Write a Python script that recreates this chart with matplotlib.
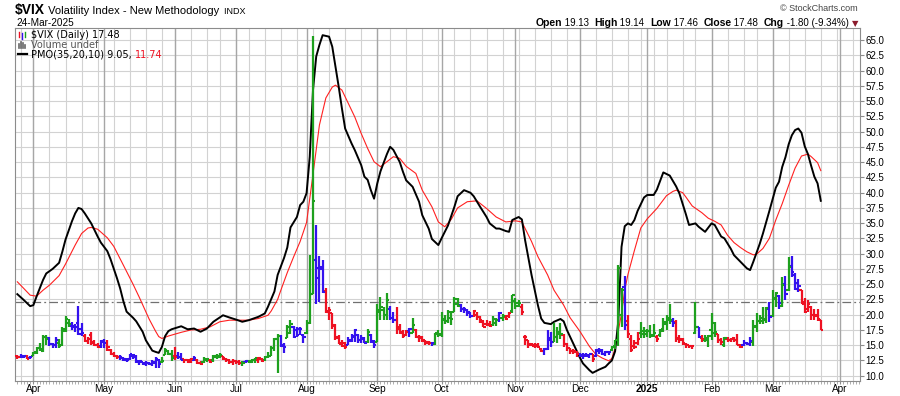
#!/usr/bin/env python3
# -*- coding: utf-8 -*-
"""
$VIX daily OHLC with PMO(35,20,10) overlay, StockCharts style
"""

import numpy as np
import pandas as pd
import matplotlib
matplotlib.use('Agg')
import matplotlib.pyplot as plt
import matplotlib.transforms as mtransforms
from matplotlib.lines import Line2D

W, H = 900, 396
plt.rcParams['font.family'] = ['Liberation Sans', 'DejaVu Sans']

# ---------------- data ----------------
# exchange holidays in the window (trading-day axis)
holidays = ['2024-03-29', '2024-05-27', '2024-06-19', '2024-07-04', '2024-09-02',
            '2024-11-28', '2024-12-25', '2025-01-01', '2025-01-09', '2025-01-20',
            '2025-02-17', '2025-04-18']

vix_open = [
    13.3, 13.0, 13.1, 13.3, 12.9,
    13.3, 13.9, 14.6, 14.1, 16.4, 16.1, 15.2, 15.1, 15.4, 15.0, 17.6, 18.6, 18.2, 17.9, 18.6, 17.7, 16.5, 15.7, 16.6, 15.5, 15.1, 14.8,
    15.6, 15.3, 14.2, 13.6, 13.3, 13.1, 12.9, 12.6, 12.8, 13.3, 13.0, 12.3, 12.2, 12.1, 12.1, 11.9, 12.0, 12.6, 12.3, 13.4, 14.0, 13.6,
    13.2, 13.3, 13.0, 12.7, 12.5, 12.5, 12.6, 12.6, 12.1, 12.2, 12.6, 12.6, 12.6, 13.1, 13.0, 13.2, 12.8, 12.5, 12.2,
    12.4, 12.3, 12.0, 12.3, 12.4, 12.3, 12.5, 12.6, 12.8, 12.5, 13.0, 13.3, 14.6, 16.0, 16.5, 15.1, 16.2, 17.0, 17.9, 17.5, 17.7, 16.7,
    17.0, 18.6, 23.4, 29.0, 26.0, 27.5, 23.8, 20.6, 20.2, 18.3, 16.4, 15.4, 15.3, 15.0, 15.7, 16.5, 16.6, 15.9, 16.0, 15.6, 16.6, 15.5,
    15.6, 20.5, 20.8, 20.0, 21.0, 19.5, 19.2, 17.9, 17.2, 16.7, 17.3, 17.0, 17.5, 16.4, 16.3, 15.7, 15.5, 15.3, 15.2, 16.8,
    16.8, 19.2, 18.9, 19.5, 20.5, 21.8, 21.6, 20.9, 20.8, 20.2, 19.8, 19.9, 19.6, 18.8, 18.4, 18.5, 18.3, 18.6, 19.1, 19.5, 19.6, 19.7, 20.6,
    22.2, 21.5, 21.3, 16.4, 15.8, 15.1, 15.0, 14.8, 14.4, 14.0, 14.4, 15.9, 15.6, 16.3, 16.8, 16.6, 15.2, 14.5, 14.1, 13.9,
    13.5, 13.3, 13.4, 13.3, 13.6, 13.2, 14.0, 14.0, 13.6, 13.8, 14.2, 14.9, 15.9, 20.0, 24.5, 19.0, 16.0, 14.8, 15.3, 17.0, 16.9,
    16.8, 17.4, 16.6, 16.4, 16.6, 17.6, 18.4, 19.2, 19.0, 18.8, 16.0, 15.8, 15.2, 15.0, 14.9, 17.0, 17.9, 16.2, 15.8, 15.9,
    17.5, 17.0, 16.9, 15.9, 15.0, 16.0, 15.9, 16.2, 15.8, 15.1, 15.0, 15.4, 15.2, 15.6, 18.0, 19.0, 19.0, 19.3, 21.0,
    19.8, 22.6, 23.0, 21.5, 25.0, 24.0, 28.0, 26.5, 25.2, 24.0, 22.0, 21.0, 21.3, 20.0, 19.9, 19.13,
]
vix_high = [
    13.4, 13.5, 13.4, 13.4, 13.2,
    13.8, 14.7, 15.3, 16.6, 16.6, 16.3, 15.4, 16.4, 16.0, 17.9, 19.8, 19.3, 18.8, 18.5, 21.4, 18.6, 16.9, 16.4, 17.2, 15.8, 15.3, 15.9,
    16.0, 15.8, 14.4, 13.9, 13.4, 13.4, 13.1, 12.9, 13.6, 13.6, 13.4, 12.5, 12.3, 12.4, 12.3, 12.6, 13.1, 12.8, 13.1, 14.5, 14.2, 14.2,
    14.7, 13.9, 13.7, 12.8, 12.8, 12.9, 13.2, 12.8, 12.4, 13.1, 12.9, 12.7, 13.4, 13.5, 13.7, 13.3, 12.9, 12.7, 12.8,
    12.6, 12.5, 12.4, 12.6, 12.6, 12.7, 12.9, 13.1, 12.9, 13.2, 13.9, 14.9, 16.2, 16.9, 16.6, 15.3, 18.3, 19.1, 18.1, 18.0, 17.9, 16.8,
    19.1, 29.7, 65.7, 34.7, 29.6, 29.0, 24.3, 21.2, 20.3, 18.5, 16.6, 15.8, 15.5, 16.4, 16.9, 17.7, 16.9, 16.6, 16.4, 17.7, 16.9, 15.8,
    21.8, 22.9, 21.3, 23.5, 21.4, 20.5, 21.3, 18.5, 17.5, 17.5, 17.8, 19.4, 17.7, 16.6, 16.5, 15.9, 15.7, 15.6, 17.0, 17.5,
    20.5, 19.9, 20.7, 20.6, 22.9, 22.7, 21.8, 21.3, 21.0, 20.5, 20.8, 20.4, 19.8, 19.1, 19.1, 19.0, 19.7, 19.5, 20.4, 20.1, 20.0, 20.5, 23.2,
    22.7, 22.4, 21.8, 16.6, 15.8, 15.3, 15.3, 15.4, 14.6, 14.5, 17.5, 17.2, 18.6, 18.0, 18.6, 16.9, 15.3, 14.6, 14.4, 14.0,
    13.7, 13.7, 13.7, 13.6, 13.6, 14.3, 14.5, 14.3, 14.1, 14.1, 14.8, 15.9, 28.1, 24.3, 26.3, 19.9, 16.6, 15.8, 17.2, 18.8, 18.0,
    17.6, 18.3, 18.5, 16.6, 17.6, 19.4, 19.9, 21.8, 19.4, 19.1, 16.6, 16.1, 15.3, 15.1, 15.0, 22.1, 18.0, 16.6, 16.6, 16.6,
    20.2, 18.8, 16.9, 16.2, 16.4, 16.4, 16.2, 16.4, 16.9, 15.2, 15.9, 15.6, 16.4, 19.1, 20.2, 20.0, 21.2, 21.3, 22.1,
    24.0, 23.7, 23.2, 26.2, 26.3, 29.5, 29.6, 26.8, 25.9, 24.1, 22.7, 22.4, 21.5, 21.0, 21.0, 19.14,
]
vix_low = [
    12.8, 12.9, 12.9, 12.7, 12.8,
    13.2, 13.6, 14.0, 13.8, 15.0, 14.9, 14.6, 14.6, 14.5, 14.9, 17.2, 18.0, 17.5, 17.2, 16.7, 16.5, 15.5, 15.2, 15.0, 14.8, 14.5, 14.5,
    14.6, 14.0, 13.4, 13.1, 12.8, 12.6, 12.4, 12.3, 12.6, 12.8, 12.0, 11.7, 11.7, 11.6, 11.7, 11.6, 11.2, 11.2, 12.0, 13.4, 13.4, 12.4,
    12.5, 12.8, 12.5, 12.1, 12.1, 12.0, 12.4, 11.9, 11.7, 12.0, 12.3, 12.1, 12.3, 12.8, 12.9, 12.6, 12.2, 11.9, 11.8,
    11.9, 11.7, 11.6, 12.0, 12.0, 12.0, 12.1, 12.1, 12.2, 12.4, 12.9, 13.2, 14.0, 10.4, 14.7, 13.7, 16.1, 16.9, 16.1, 16.3, 16.6, 15.3,
    16.9, 18.4, 23.4, 21.8, 22.0, 23.5, 20.2, 19.1, 17.6, 15.9, 15.2, 14.7, 14.3, 15.0, 15.5, 15.6, 15.4, 15.4, 15.3, 15.3, 15.3, 14.6,
    15.5, 19.1, 19.1, 19.2, 19.1, 18.7, 16.9, 16.9, 16.2, 16.5, 16.4, 17.0, 16.1, 15.6, 15.5, 15.0, 15.0, 14.9, 15.0, 16.4,
    16.4, 18.4, 18.6, 18.3, 20.4, 21.3, 20.5, 20.2, 19.7, 19.4, 19.6, 19.1, 18.6, 17.9, 18.1, 18.0, 18.1, 18.1, 18.8, 18.9, 19.1, 19.4, 20.2,
    21.0, 21.3, 19.9, 15.0, 14.5, 14.8, 14.6, 14.5, 13.9, 13.4, 14.2, 14.7, 15.5, 15.3, 16.0, 14.7, 14.1, 13.6, 13.6, 13.1,
    13.0, 12.8, 13.0, 12.9, 12.3, 13.0, 13.6, 13.4, 13.3, 13.4, 14.1, 14.3, 14.9, 18.0, 17.5, 16.2, 13.9, 14.4, 15.0, 16.1, 16.1,
    16.4, 16.1, 16.3, 15.5, 16.4, 17.2, 17.5, 18.5, 18.0, 15.5, 15.3, 15.0, 14.5, 14.5, 14.45, 16.8, 16.1, 15.5, 15.5, 14.7,
    15.8, 16.4, 15.3, 15.0, 14.7, 15.5, 15.6, 15.5, 15.0, 14.5, 14.9, 15.0, 14.9, 14.8, 17.2, 18.5, 18.5, 18.6, 18.8,
    19.6, 21.3, 21.0, 21.3, 22.4, 23.8, 26.2, 24.0, 23.7, 21.7, 20.2, 20.4, 19.1, 19.1, 18.9, 17.46,
]
vix_close = [
    13.06, 13.19, 13.24, 12.78, 13.01,
    13.65, 14.61, 14.33, 16.35, 16.03, 15.19, 14.98, 15.80, 14.91, 17.31, 19.23, 18.40, 18.21, 18.00, 16.85, 16.94, 15.69, 15.97, 15.37, 15.03, 14.67, 15.65,
    15.39, 14.68, 13.49, 13.23, 13.00, 13.00, 12.69, 12.55, 13.60, 13.42, 12.45, 12.42, 11.99, 12.15, 11.86, 12.29, 12.77, 11.93, 12.36, 14.28, 13.49, 12.92,
    13.11, 13.06, 12.63, 12.58, 12.22, 12.74, 12.85, 12.04, 11.94, 12.66, 12.75, 12.30, 13.28, 13.20, 13.33, 12.84, 12.55, 12.24, 12.44,
    12.22, 12.03, 12.09, 12.48, 12.37, 12.51, 12.85, 12.91, 12.46, 13.12, 13.19, 14.48, 15.93, 16.52, 14.91, 14.72, 18.04, 18.46, 16.39, 16.60, 17.69, 16.36,
    18.59, 23.39, 38.57, 27.71, 27.85, 23.79, 20.37, 20.71, 18.12, 16.19, 15.23, 14.80, 14.65, 15.88, 16.27, 17.55, 15.86, 16.15, 15.43, 17.11, 15.65, 15.00,
    20.72, 21.32, 19.90, 22.38, 19.45, 19.08, 17.69, 17.07, 16.56, 17.14, 17.61, 18.23, 16.33, 16.15, 15.89, 15.39, 15.41, 15.37, 16.96, 16.73,
    19.26, 18.90, 20.49, 19.21, 22.64, 21.42, 20.86, 20.93, 20.46, 19.70, 20.64, 19.58, 19.11, 18.03, 18.37, 18.20, 19.24, 19.08, 20.33, 19.80, 19.34, 20.35, 23.16,
    21.88, 21.98, 20.49, 16.27, 15.20, 14.94, 14.97, 14.71, 14.02, 14.31, 16.14, 15.58, 16.35, 17.16, 16.87, 15.24, 14.60, 14.10, 14.10, 13.51,
    13.34, 13.30, 13.45, 13.54, 12.77, 14.19, 14.18, 13.58, 13.92, 13.81, 14.69, 15.87, 27.62, 24.09, 18.36, 16.78, 14.27, 14.73, 15.95, 17.40, 17.35,
    17.30, 16.50, 17.00, 16.00, 17.40, 18.80, 19.50, 19.20, 18.70, 16.12, 16.00, 15.40, 15.06, 14.80, 14.85, 17.90, 16.41, 16.00, 16.20, 16.43,
    18.62, 17.21, 15.77, 15.50, 16.10, 15.81, 16.02, 15.89, 15.10, 14.77, 15.35, 15.27, 15.66, 18.21, 18.98, 19.43, 19.10, 21.13, 19.63,
    22.78, 23.51, 21.93, 24.87, 23.37, 27.86, 26.92, 24.23, 24.66, 21.77, 20.51, 21.70, 19.90, 19.80, 19.28, 17.48,
]
# bar colour codes per month: g = green, r = red, b = blue
bar_colors = ['rbbrb',
              'gggggbbbggggbbbbrrrrrb',
              'brrrrbbbbbbbbbbbbbgggg',
              'rbbrrrbrrggrgggrrrr',
              'rrgbgggrrgggggbbggbbbb',
              'gggbbbrrrrrrrbbbbbbgbb',
              'ggggbbrrrrbgrrrrrbgg',
              'ggggggbbbbrrrrrrggbgrrg',
              'ggrrrrrrrbbbgggrrrrr',
              'bbbbrbbbbbggggbrrrrgg',
              'gggrggggbrrrrrrgbrgg',
              'ggrrgrrrrrbbbgggggb',
              'ggbgbgbbbrrrrrrr']

# PMO(35,20,10) line and its signal, sampled at trading-day index
pmo_idx = [0, 2, 4, 5, 6, 8, 9, 11, 13, 14, 15, 17, 18, 19, 20, 21, 23, 25, 26, 28,
           29, 31, 32, 33, 34, 36, 37, 39, 40, 42, 43, 44, 45, 46, 47, 48, 51, 53, 55, 57,
           59, 61, 64, 66, 68, 70, 72, 75, 77, 78, 80, 81, 83, 84, 85, 87, 88, 89, 90, 91,
           92, 93, 94, 95, 97, 98, 99, 100, 101, 102, 104, 105, 107, 108, 109, 110, 111, 112, 113, 115,
           116, 117, 119, 120, 121, 123, 125, 126, 128, 129, 131, 132, 134, 136, 137, 139, 141, 142, 144, 146,
           147, 149, 150, 152, 153, 154, 156, 157, 158, 160, 162, 163, 164, 166, 167, 169, 170, 171, 173, 175,
           176, 178, 179, 181, 183, 184, 185, 186, 187, 188, 189, 190, 191, 192, 193, 195, 196, 198, 199, 201,
           203, 205, 206, 208, 209, 211, 212, 214, 216, 217, 219, 220, 222, 223, 225, 227, 228, 229, 231, 232,
           234, 236, 237, 238, 239, 240, 241, 242, 243, 244, 245, 246, 247, 248, 249, 250]
pmo_val = [0.74, 0.22, -0.33, -0.24, 0.54, 2.0, 2.58, 2.99, 3.53, 4.51, 5.6, 7.23, 7.93, 8.42, 8.32, 7.93, 7.04, 5.87, 5.33, 4.57,
           3.86, 2.17, 1.25, 0.11, -0.82, -1.36, -1.68, -2.61, -3.37, -4.29, -4.4, -4.49, -3.95, -2.99, -2.55, -2.39, -2.12, -2.39, -2.32, -2.61,
           -2.32, -1.72, -1.14, -1.34, -1.52, -1.72, -1.58, -1.28, -0.98, -0.38, 0.98, 2.45, 3.97, 4.89, 6.68, 7.61, 8.67, 8.97, 9.73, 12.99,
           18.91, 21.9, 22.93, 23.8, 23.67, 22.77, 20.98, 19.21, 17.28, 15.49, 14.16, 13.57, 12.23, 11.2, 10.92, 10.0, 9.24, 10.6, 11.68, 13.21,
           13.86, 13.59, 12.5, 11.63, 10.87, 10.3, 8.97, 7.77, 6.58, 5.65, 5.11, 5.71, 6.85, 8.52, 9.46, 10.0, 9.77, 9.46, 8.52, 7.61,
           7.04, 6.58, 6.58, 6.36, 6.29, 7.34, 7.61, 7.39, 5.54, 2.45, -0.27, -1.43, -1.82, -1.93, -1.72, -1.47, -1.68, -2.45, -3.66, -4.89,
           -5.43, -6.03, -6.27, -5.98, -5.73, -5.43, -5.16, -4.35, -1.63, 4.95, 6.79, 7.04, 6.9, 7.34, 8.15, 9.35, 9.57, 9.57, 10.05, 11.58,
           11.3, 10.33, 9.71, 7.88, 6.9, 7.04, 6.74, 6.29, 7.04, 6.9, 5.87, 5.71, 4.78, 4.21, 3.62, 3.04, 2.88, 3.62, 5.22, 6.14,
           8.15, 10.22, 10.75, 12.07, 12.93, 14.08, 14.89, 15.35, 15.49, 15.11, 13.91, 13.21, 12.17, 11.2, 10.6, 9.05]
sig_idx = [0, 2, 4, 6, 8, 10, 13, 15, 18, 20, 22, 23, 25, 28, 30, 33, 36, 38, 41, 43,
           44, 45, 47, 51, 54, 57, 60, 63, 66, 72, 75, 78, 79, 81, 82, 84, 86, 88, 90, 92,
           94, 96, 98, 99, 101, 103, 105, 107, 109, 111, 113, 115, 117, 119, 121, 124, 126, 129, 131, 133,
           135, 137, 140, 143, 146, 149, 152, 155, 157, 160, 162, 165, 167, 170, 172, 175, 178, 180, 182, 184,
           185, 186, 188, 189, 190, 192, 194, 196, 199, 202, 204, 205, 207, 208, 210, 213, 215, 217, 219, 221,
           223, 225, 227, 229, 230, 232, 234, 236, 238, 240, 242, 244, 246, 247, 249, 250]
sig_val = [1.84, 1.25, 0.65, 0.56, 1.09, 1.54, 2.39, 3.42, 5.11, 6.14, 6.63, 6.68, 6.52, 5.76, 5.0, 3.32, 1.63, 0.43, -1.47, -2.55,
           -3.04, -3.21, -2.99, -2.66, -2.45, -2.39, -2.17, -1.72, -1.58, -1.58, -1.43, -1.14, -0.76, 0.27, 1.09, 2.66, 4.08, 5.43, 7.12, 11.41,
           15.8, 18.21, 19.18, 19.35, 18.91, 17.72, 16.52, 15.05, 13.72, 12.53, 12.09, 12.53, 12.98, 12.83, 12.12, 11.49, 10.0, 8.52, 7.17, 6.74,
           7.39, 8.42, 8.97, 9.05, 8.37, 7.61, 7.17, 7.27, 7.17, 5.43, 4.07, 2.45, 1.09, -0.24, -1.36, -2.55, -3.91, -4.62, -4.95, -5.2,
           -4.99, -4.08, -0.98, 1.09, 2.5, 4.62, 6.63, 7.45, 8.37, 9.51, 9.89, 10.0, 9.78, 9.4, 8.59, 7.99, 7.5, 7.23, 6.9, 5.98,
           5.33, 4.89, 4.51, 4.24, 4.29, 4.81, 5.71, 7.34, 8.8, 10.43, 11.96, 13.04, 13.21, 12.99, 12.45, 11.74]

# PMO panel is overlaid on the price pane: PMO zero sits at 22.0, 1 PMO unit = 1.84 price units
PMO_ZERO = 22.0
PMO_SCALE = 1.84

n = len(vix_close)
colors_all = ''.join(bar_colors)
assert len(vix_open) == len(vix_high) == len(vix_low) == n == len(colors_all)
assert len(pmo_idx) == len(pmo_val) and len(sig_idx) == len(sig_val)

all_days = pd.bdate_range('2024-03-22', '2025-04-30')
all_days = all_days[~all_days.isin(pd.to_datetime(holidays))]

# week and month boundaries on the trading-day axis
week_starts = [i for i in range(1, len(all_days))
               if all_days[i].isocalendar()[1] != all_days[i - 1].isocalendar()[1]]
month_starts = [i for i in range(1, len(all_days)) if all_days[i].month != all_days[i - 1].month]

XMIN, XMAX = -0.72, 262.2
YMIN, YMAX = 9.13, 66.97
month_starts = [i for i in month_starts if i < XMAX]
week_starts = [i for i in week_starts if i < XMAX]

# ---------------- figure ----------------
fig = plt.figure(figsize=(W / 100, H / 100), dpi=100)
ax = fig.add_axes([15 / W, 1 - 381 / H, (860 - 15) / W, (381 - 28) / H])
ax.set_xlim(XMIN, XMAX)
ax.set_ylim(YMIN, YMAX)

# grid
yt = np.arange(10, 65.01, 2.5)
for v in yt:
    ax.axhline(v, color='#d2d2d2', lw=0.8, zorder=0)
for i in week_starts:
    ax.axvline(i, color='#d2d2d2', lw=0.8, zorder=0)
for i in month_starts:
    ax.axvline(i, color='#a6a6a6', lw=1.0, zorder=0.5)

# PMO zero line
ax.axhline(PMO_ZERO, color='#707070', lw=0.9, ls=(0, (7, 2.5, 1.5, 2.5)), zorder=1)

# PMO and signal
pmo_tr = mtransforms.Affine2D().scale(1, PMO_SCALE).translate(0, PMO_ZERO) + ax.transData
ax.plot(sig_idx, sig_val, color='#ff2020', lw=0.8, transform=pmo_tr, zorder=2)
ax.plot(pmo_idx, pmo_val, color='black', lw=1.4, transform=pmo_tr, zorder=2.2)

# OHLC bars
cmap = {'g': '#1ea01e', 'r': '#ee1122', 'b': '#3311ee'}
cols = [cmap[c] for c in colors_all]
x = np.arange(n)
ax.vlines(x, vix_low, vix_high, colors=cols, lw=1.6, zorder=3)
ax.hlines(vix_open, x - 0.7, x, colors=cols, lw=1.5, zorder=3)
ax.hlines(vix_close, x, x + 0.7, colors=cols, lw=1.5, zorder=3)

# axes styling
for s in ax.spines.values():
    s.set_color('#8c8c8c')
    s.set_linewidth(0.8)
ax.yaxis.tick_right()
ax.set_yticks(yt)
ax.set_yticklabels([f'{v:.1f}' for v in yt])
ax.tick_params(axis='y', length=3, width=0.8, color='#8c8c8c', pad=1, labelsize=7)

labels = []
for i in month_starts:
    d = all_days[i]
    labels.append(str(d.year) if d.month == 1 else d.strftime('%b'))
ax.set_xticks(month_starts)
ax.set_xticklabels(labels)
for t in ax.get_xticklabels():
    if t.get_text().isdigit():
        t.set_fontweight('bold')
ax.set_xticks(np.arange(0, int(XMAX) + 1), minor=True)
ax.tick_params(axis='x', which='major', length=2, width=0.8, color='#8c8c8c', pad=0.5, labelsize=7.2)
ax.tick_params(axis='x', which='minor', length=2, width=0.6, color='#a0a0a0')


# ---------------- text ----------------
def fx(px):
    return px / W


def fy(py):
    return 1 - py / H


def draw_runs(runs, x_px, y_px, align='left'):
    r = fig.canvas.get_renderer()
    texts = []
    xx = x_px
    for s, kw in runs:
        t = fig.text(fx(xx), fy(y_px), s, ha='left', va='baseline', **kw)
        xx += t.get_window_extent(renderer=r).width
        texts.append(t)
    if align == 'right':
        shift = xx - x_px
        for t in texts:
            t.set_x(t.get_position()[0] - shift / W)


draw_runs([('$VIX', dict(fontsize=10, fontweight='bold')),
           (' Volatility Index - New Methodology', dict(fontsize=8)),
           ('  INDX', dict(fontsize=6.5))], 15, 14)
fig.text(fx(16), fy(26), '24-Mar-2025', fontsize=7.2, va='baseline')
fig.text(fx(858), fy(11), '\u00a9 StockCharts.com', fontsize=6.5, color='#444444',
         ha='right', va='baseline')

b = dict(fontsize=7.5, fontweight='bold')
nrm = dict(fontsize=7)
draw_runs([('Open', b), (' 19.13  ', nrm), ('High', b), (' 19.14  ', nrm),
           ('Low', b), (' 17.46  ', nrm), ('Close', b), (' 17.48  ', nrm),
           ('Chg', b), (' -1.80 (-9.34%) ', nrm),
           ('\u25bc', dict(fontsize=6, color='#8b1a2b', family=['DejaVu Sans']))], 858, 26, align='right')

# in-chart legend
leg = dict(family=['DejaVu Sans'], fontsize=7)
fig.text(fx(31), fy(38.5), '$VIX (Daily) 17.48', va='baseline', **leg)
fig.text(fx(31), fy(48.5), 'Volume undef', va='baseline', color='#555555', **leg)
draw_runs([('PMO(35,20,10) 9.05, ', leg), ('11.74', dict(leg, color='#ee1122'))], 31, 57.5)

# legend icons
for (xa, ya, yb, c) in [(19, 32, 37, '#ee1122'), (22, 33, 39, '#3311ee'), (25, 32, 37, '#1ea01e')]:
    fig.add_artist(Line2D([fx(xa), fx(xa)], [fy(ya), fy(yb)], color=c, lw=1.0))
for (xa, h) in [(19, 4), (21, 6), (23, 5), (25, 3)]:
    fig.add_artist(Line2D([fx(xa), fx(xa)], [fy(48), fy(48 - h)], color='#666666', lw=1.2))
fig.add_artist(Line2D([fx(18), fx(27)], [fy(54), fy(54)], color='black', lw=1.6))

plt.savefig('out.png', dpi=100)
plt.close()
